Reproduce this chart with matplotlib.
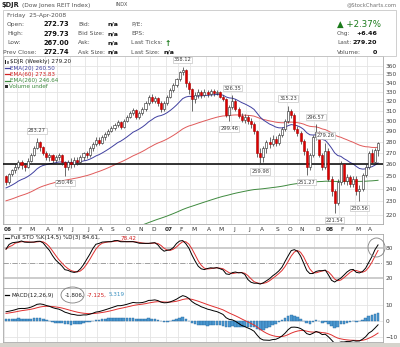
import numpy as np
import pandas as pd
import matplotlib
matplotlib.use('Agg')
import matplotlib.pyplot as plt
from matplotlib.patches import Rectangle, Ellipse
from matplotlib.ticker import NullFormatter, NullLocator

# weekly bars, 6-Jan-2006 .. 25-Apr-2008
opens = [250, 245, 252, 255, 258, 262, 259, 258, 263, 268, 274, 280, 275, 270, 266, 268, 264, 266, 268, 262,
         258, 262, 260, 264, 262, 266, 270, 268, 274, 278, 282, 279, 284, 287, 290, 293, 296, 299, 294, 300,
         304, 308, 311, 304, 308, 312, 318, 325, 320, 324, 318, 312, 318, 325, 332, 338, 344, 352, 355, 340,
         333, 322, 327, 330, 327, 330, 328, 331, 329, 330, 325, 322, 306, 314, 320, 312, 305, 301, 304, 300,
         297, 290, 270, 266, 274, 280, 278, 283, 279, 286, 292, 300, 310, 306, 292, 288, 281, 272, 258, 268,
         284, 289, 268, 258, 272, 248, 238, 229, 245, 260, 246, 249, 244, 248, 238, 240, 251, 258, 270, 262,
         272.73]
highs = [251, 253, 256, 260, 264, 264, 261, 265, 270, 276, 283.27, 281, 276, 272, 270, 269, 268, 270, 269, 263,
         264, 265, 266, 266, 268, 271, 272, 276, 280, 284, 284, 286, 289, 292, 295, 298, 301, 300, 302, 306,
         310, 313, 312, 310, 314, 320, 327, 328, 326, 325, 320, 320, 327, 334, 340, 346, 354, 358.12, 356, 342,
         334, 330, 333, 332, 333, 332, 333, 333, 332, 331, 327, 323, 316, 326.35, 322, 314, 308, 307, 306, 303,
         299, 291, 274, 276, 282, 284, 286, 285, 288, 294, 302, 315.23, 312, 308, 295, 290, 283, 274, 270, 286,
         296.57, 290, 270, 279.26, 274, 250, 240, 248, 263, 261, 252, 251, 250, 250, 243, 253, 260, 272, 273, 274,
         279.73]
lows = [243, 244, 250, 253, 256, 256, 254, 257, 262, 267, 273, 272, 268, 264, 263, 260, 262, 264, 259, 250.46,
        255, 257, 258, 259, 260, 264, 265, 266, 272, 276, 277, 278, 282, 285, 289, 291, 294, 292, 293, 299,
        303, 306, 302, 302, 306, 310, 316, 318, 318, 315, 309, 310, 316, 323, 330, 336, 342, 349, 336, 328,
        310, 318, 324, 324, 325, 325, 326, 326, 327, 323, 320, 304, 299.46, 312, 310, 303, 299, 298, 297, 293,
        287, 266, 259.98, 262, 270, 274, 276, 276, 277, 284, 290, 298, 303, 290, 285, 278, 268, 251.27, 255, 266,
        282, 266, 255, 256, 246, 234, 221.54, 227, 243, 244, 243, 241, 241, 235, 230.56, 238, 249, 256, 260, 261,
        267]
closes = [245, 252, 255, 258, 262, 259, 258, 263, 268, 274, 280, 275, 270, 266, 268, 264, 266, 268, 262, 258,
          262, 260, 264, 262, 266, 270, 268, 274, 278, 282, 279, 284, 287, 290, 293, 296, 299, 294, 300, 304,
          308, 311, 304, 308, 312, 318, 325, 320, 324, 318, 312, 318, 325, 332, 338, 344, 352, 355, 340, 333,
          322, 327, 330, 327, 330, 328, 331, 329, 330, 325, 322, 306, 314, 320, 312, 305, 301, 304, 300, 297,
          290, 270, 266, 274, 280, 278, 283, 279, 286, 292, 300, 310, 306, 292, 288, 281, 272, 258, 268, 284,
          289, 268, 258, 272, 248, 238, 229, 245, 260, 246, 249, 244, 248, 238, 240, 251, 258, 270, 262, 272.74,
          279.20]

# state just before the first bar (left edge of the chart)
ema_start = {20: 240, 60: 230, 260: 186}
macd_start = (242, 236, 4.5)   # ema12, ema26, signal
pre_high, pre_low = 247, 224   # 14-week range going into 2006

month_weeks = [0, 4, 8, 13, 17, 21, 26, 30, 34, 39, 43, 47, 52, 56, 60, 65, 69, 73, 78, 82, 87, 91, 95, 100,
               104, 108, 113, 117]
month_names = ['06', 'F', 'M', 'A', 'M', 'J', 'J', 'A', 'S', 'O', 'N', 'D', '07', 'F', 'M', 'A', 'M', 'J', 'J',
               'A', 'S', 'O', 'N', 'D', '08', 'F', 'M', 'A']

swing_weeks = [10, 19, 57, 72, 73, 82, 91, 97, 100, 103, 106, 114]
swing_values = [283.27, 250.46, 358.12, 299.46, 326.35, 259.98, 315.23, 251.27, 296.57, 279.26, 221.54, 230.56]
swing_kind = ['H', 'L', 'H', 'L', 'H', 'L', 'H', 'L', 'H', 'H', 'L', 'L']

price_ticks = list(range(220, 370, 10))
hline_price = 260

W, H = 400, 347
fig = plt.figure(figsize=(W / 100, H / 100), dpi=100)
fig.patch.set_facecolor('white')


def px_axes(x0, y0, x1, y1):
    return fig.add_axes([x0 / W, 1 - y1 / H, (x1 - x0) / W, (y1 - y0) / H])


def ftext(x, y, s, **kw):
    kw.setdefault('va', 'center')
    fig.text(x / W, 1 - y / H, s, **kw)


c = pd.Series(closes)
hi = pd.Series(highs)
lo = pd.Series(lows)
n = len(closes)
idx = np.arange(n)


def ema(values, span, start):
    return pd.concat([pd.Series([start]), pd.Series(values)]).ewm(span=span, adjust=False).mean().iloc[1:].values


ema20 = ema(closes, 20, ema_start[20])
ema60 = ema(closes, 60, ema_start[60])
ema260 = ema(closes, 260, ema_start[260])
macd = ema(closes, 12, macd_start[0]) - ema(closes, 26, macd_start[1])
signal = ema(macd, 9, macd_start[2])
hist = macd - signal

ll = pd.concat([pd.Series([pre_low]), lo]).rolling(14, min_periods=1).min().iloc[1:].reset_index(drop=True)
hh = pd.concat([pd.Series([pre_high]), hi]).rolling(14, min_periods=1).max().iloc[1:].reset_index(drop=True)
raw_k = 100 * (c - ll) / (hh - ll)
sto_k = raw_k.rolling(5, min_periods=1).mean()
sto_d = sto_k.rolling(3, min_periods=1).mean()

grid_c = '#e4e4e4'
frame_c = '#a8a8a8'
lab_c = '#404040'
xl = (-0.97, 121.6)

# ---------------- price panel
ax = px_axes(3, 56, 383, 224)
ax.set_yscale('log')
ax.set_ylim(213.5, 371.6)
ax.set_xlim(*xl)
for m in month_weeks:
    ax.axvline(m - 0.5, color=grid_c, lw=0.6, zorder=0)
for p in price_ticks:
    ax.axhline(p, color=grid_c, lw=0.6, zorder=0)
ax.yaxis.set_major_locator(NullLocator())
ax.yaxis.set_minor_locator(NullLocator())
ax.yaxis.set_minor_formatter(NullFormatter())
ax.yaxis.tick_right()
ax.set_yticks(price_ticks)
ax.set_yticklabels([str(p) for p in price_ticks])
ax.tick_params(axis='y', length=0, pad=2, labelsize=4.2, labelcolor=lab_c)
ax.set_xticks([])

ax.plot(idx, ema260, color='#3f8a3f', lw=0.7, zorder=2)
ax.plot(idx, ema60, color='#e05a5a', lw=0.7, zorder=2)
ax.plot(idx, ema20, color='#4040a0', lw=0.7, zorder=2)
ax.axhline(hline_price, color='black', lw=1.1, zorder=3)

for i in range(n):
    o, cl = opens[i], closes[i]
    down = cl < o
    ax.vlines(i, lows[i], highs[i], color='#303030', lw=0.5, zorder=4)
    bot, top = min(o, cl), max(o, cl)
    if top - bot < 0.4:
        top = bot + 0.4
    ax.add_patch(Rectangle((i - 0.33, bot), 0.66, top - bot,
                           facecolor='#dd0000' if down else 'white',
                           edgecolor='#aa0000' if down else '#202020', lw=0.4, zorder=5))

for w, v, k in zip(swing_weeks, swing_values, swing_kind):
    yv = v * (1.016 if k == 'H' else 0.984)
    ax.text(w, yv, f'{v:.2f}', ha='center', va='bottom' if k == 'H' else 'top', fontsize=3.7, color='#404040',
            zorder=6, bbox=dict(boxstyle='square,pad=0.15', fc='white', ec='#b8b8b8', lw=0.4))

for s in ax.spines.values():
    s.set_color(frame_c)
    s.set_linewidth(0.6)

# price legend
leg_rows = [('$DJR (Weekly) 279.20', '#202020'), ('EMA(20) 260.50', '#4040a0'), ('EMA(60) 273.83', '#d02020'),
            ('EMA(260) 246.64', '#3f8a3f'), ('Volume undef', '#3f8a3f')]
for k, (t, col) in enumerate(leg_rows):
    y = 62 + k * 6.2
    if k == 0:
        fig.add_artist(Rectangle((4.5 / W, 1 - (y + 1.8) / H), 1.2 / W, 3.6 / H, transform=fig.transFigure,
                                 fc='#202020', ec='none'))
        fig.add_artist(Rectangle((6.5 / W, 1 - (y + 1.2) / H), 1.2 / W, 2.4 / H, transform=fig.transFigure,
                                 fc='white', ec='#202020', lw=0.4))
        ftext(10, y, t, fontsize=4.1, color='#202020')
    elif k == 4:
        fig.add_artist(Rectangle((4.5 / W, 1 - (y + 1.5) / H), 3.5 / W, 3 / H, transform=fig.transFigure,
                                 fc='#303030', ec='none'))
        ftext(9, y, t, fontsize=4.1, color=col)
    else:
        fig.add_artist(plt.Line2D([4.5 / W, 10 / W], [1 - y / H, 1 - y / H], color=col, lw=0.9))
        ftext(10, y, t, fontsize=4.1, color=col)

# ---------------- stochastics panel
ax2 = px_axes(3, 234, 383, 288)
ax2.set_xlim(*xl)
ax2.set_ylim(0, 108)
for m in month_weeks:
    ax2.axvline(m - 0.5, color=grid_c, lw=0.6, zorder=0)
ax2.axhline(80, color='#c4c4c4', lw=1.2, zorder=1)
ax2.axhline(20, color='#c4c4c4', lw=1.2, zorder=1)
ax2.axhline(50, color='#909090', lw=0.6, ls='-.', zorder=1)
ax2.plot(idx, sto_d, color='#e03030', lw=0.7, zorder=3)
ax2.plot(idx, sto_k, color='black', lw=0.7, zorder=4)
ax2.yaxis.tick_right()
ax2.set_yticks([20, 50, 80])
ax2.tick_params(axis='y', length=0, pad=2, labelsize=4.2, labelcolor=lab_c)
ax2.set_xticks([])
for s in ax2.spines.values():
    s.set_color(frame_c)
    s.set_linewidth(0.6)

# month labels between the panels
for m, name in zip(month_weeks, month_names):
    xp = 3 + (m + 0.97) / (xl[1] - xl[0]) * 380
    ftext(xp + 1.5, 229.5, name, ha='center', fontsize=4.2, color='#303030',
          fontweight='bold' if name[0] in '0' else 'normal')

fig.add_artist(plt.Line2D([4.5 / W, 9 / W], [1 - 238 / H, 1 - 238 / H], color='black', lw=0.9))
ftext(11, 238, 'Full STO %K(14,5) %D(3) 84.61,', fontsize=4.1, color='#202020')
ftext(121, 238, '78.42', fontsize=4.1, color='#d02020')
fig.add_artist(Ellipse((376.5 / 100, (H - 247.5) / 100), 0.17, 0.19, transform=fig.dpi_scale_trans,
                       fill=False, ec='#808080', lw=0.6))

# ---------------- MACD panel
ax3 = px_axes(3, 288, 383, 342)
ax3.set_xlim(*xl)
ax3.set_ylim(-13.1, 20.6)
for m in month_weeks:
    ax3.axvline(m - 0.5, color=grid_c, lw=0.6, zorder=0)
for v in (-10, 0, 10):
    ax3.axhline(v, color=grid_c, lw=0.6, zorder=0)
ax3.bar(idx, hist, width=0.85, color='#4a98d0', edgecolor='#2a6aa0', lw=0.3, zorder=2)
ax3.plot(idx, signal, color='#e03030', lw=0.7, zorder=3)
ax3.plot(idx, macd, color='black', lw=0.7, zorder=4)
ax3.yaxis.tick_right()
ax3.set_yticks([-10, 0, 10])
ax3.tick_params(axis='y', length=0, pad=2, labelsize=4.2, labelcolor=lab_c)
ax3.set_xticks([])
for s in ax3.spines.values():
    s.set_color(frame_c)
    s.set_linewidth(0.6)

fig.add_artist(plt.Line2D([4.5 / W, 9 / W], [1 - 295 / H, 1 - 295 / H], color='black', lw=0.9))
ftext(11, 295, 'MACD(12,26,9)', fontsize=4.1, color='#202020')
ftext(65, 295, '-1.806,', fontsize=4.1, color='#202020')
ftext(87, 295, '-7.125,', fontsize=4.1, color='#d02020')
ftext(109, 295, '5.319', fontsize=4.1, color='#3a90c0')
fig.add_artist(Ellipse((72.5 / 100, (H - 295) / 100), 0.23, 0.16, transform=fig.dpi_scale_trans,
                       fill=False, ec='#808080', lw=0.6))

# bottom window edge
fig.add_artist(Rectangle((0, 0), 1, 4 / H, transform=fig.transFigure, fc='#d6d3cc', ec='none'))

# ---------------- header and quote box
ftext(1, 5, '$DJR', fontsize=4.8, fontweight='bold', color='#202020')
ftext(22, 5, '(Dow Jones REIT Index)', fontsize=4.2, color='#505050')
ftext(116, 5, 'INDX', fontsize=3.5, color='#505050')
ftext(397, 5, '@StockCharts.com', fontsize=3.8, color='#707070', ha='right')
fig.add_artist(Rectangle((3 / W, 1 - 56 / H), 393 / W, 46 / H, transform=fig.transFigure,
                         fill=False, ec='#c8c8c8', lw=0.6))

ftext(7, 15, 'Friday  25-Apr-2008', fontsize=4.3, color='#505050')
rows = [('Open:', '272.73', 'Bid:', 'n/a', 'P/E:', ''),
        ('High:', '279.73', 'Bid Size:', 'n/a', 'EPS:', ''),
        ('Low:', '267.00', 'Ask:', 'n/a', 'Last Ticks:', ''),
        ('Prev Close:', '272.74', 'Ask Size:', 'n/a', 'Last Size:', 'n/a')]
for k, (a, b, cc, d, e, f) in enumerate(rows):
    y = 24.5 + k * 9.2
    ftext(7 if k < 3 else 3, y, a, fontsize=4.3, color='#505050')
    ftext(43, y, b, fontsize=4.8, color='#101010', fontweight='bold')
    ftext(78, y, cc, fontsize=4.3, color='#505050')
    ftext(108, y, d, fontsize=4.5, color='#101010', fontweight='bold')
    ftext(131, y, e, fontsize=4.3, color='#505050')
    if f:
        ftext(163, y, f, fontsize=4.5, color='#101010', fontweight='bold')
ftext(168, 43, '\u2191', fontsize=5.5, color='#1a7a1a', fontweight='bold', ha='center')

ftext(337, 24, '\u25b2 +2.37%', fontsize=6.2, color='#1a7a1a')
ftext(337, 33.5, 'Chg:', fontsize=4.2, color='#505050')
ftext(377, 33.5, '+6.46', fontsize=4.6, color='#101010', fontweight='bold', ha='right')
ftext(337, 42.5, 'Last:', fontsize=4.2, color='#505050')
ftext(377, 42.5, '279.20', fontsize=4.6, color='#101010', fontweight='bold', ha='right')
ftext(337, 52.5, 'Volume:', fontsize=4.2, color='#505050')
ftext(377, 52.5, '0', fontsize=4.6, color='#101010', fontweight='bold', ha='right')

fig.savefig('out.png', dpi=100)
